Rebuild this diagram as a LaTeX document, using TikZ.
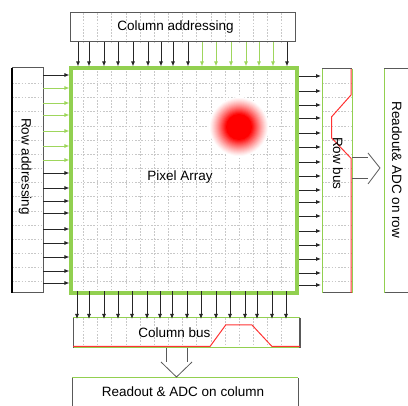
\documentclass[tikz,border=0pt]{standalone}
\usepackage{fontspec}
\setmainfont{Liberation Sans}
\usetikzlibrary{arrows.meta,positioning,calc}

\definecolor{ltgreen}{RGB}{146,208,80}
\definecolor{arrgreen}{RGB}{158,214,92}
\definecolor{bordgray}{RGB}{89,89,89}
\definecolor{gridgray}{RGB}{200,200,200}
\definecolor{busred}{RGB}{255,50,50}

\tikzset{
  box/.style={inner sep=0pt, outer sep=0pt},
  lbl/.style={inner sep=0pt, font=\fontsize{13.5}{16}\selectfont},
  gridline/.style={gridgray, dash pattern=on 1.6pt off 1.6pt, line width=0.5pt},
  grayside/.style={bordgray, line width=1pt},
  greenside/.style={ltgreen, line width=1pt},
  sig/.style={-{Latex[length=5pt,width=4pt]}, line width=0.8pt, black!85},
  gsig/.style={sig, arrgreen},
  busline/.style={busred, line width=1pt},
  bigarrow/.style={bordgray, line width=0.8pt}
}

\begin{document}
\begin{tikzpicture}[x=1pt, y=-1pt]
  \useasboundingbox (0,0) rectangle (408,406);

  % блоки
  \node[box, minimum width=225, minimum height=29] (coladdr) at (182.5,27.5) {};
  \node[box, minimum width=31, minimum height=225] (rowaddr) at (27.5,180.5) {};
  \node[box, minimum width=226, minimum height=225] (array) at (184,180.5) {};
  \node[box, minimum width=30, minimum height=224] (rowbus) at (337,181) {};
  \node[box, minimum width=30, minimum height=224] (rowadc) at (399,181) {};
  \node[box, minimum width=227, minimum height=30] (colbus) at (186.5,333) {};
  \node[box, minimum width=226, minimum height=32] (coladc) at (185,394) {};

  % сетка
  \foreach \k [evaluate=\k as \g using 83.3+14.17*\k] in {0,...,14} {
    \draw[gridline] (\g,0 |- coladdr.north) -- (\g,0 |- coladdr.south);
    \draw[gridline] (\g,0 |- array.north) -- (\g,0 |- array.south);
    \draw[gridline] (\g,0 |- colbus.north) -- (\g,0 |- colbus.south);
    \draw[gridline] (array.west |- 0,\g) -- (array.east |- 0,\g);
    \draw[gridline] (rowaddr.west |- 0,\g) -- (rowaddr.east |- 0,\g);
    \draw[gridline] (rowbus.west |- 0,\g) -- (rowbus.east |- 0,\g);
  }

  % пятно засветки
  \coordinate (spot) at (239,127);
  \foreach \r [evaluate=\r as \p using {min(100,100*((30-\r)/17)^1.2)}] in {30,29,...,1}
    \fill[red!\p!white] (spot) circle (\r);

  % рамки
  \draw[grayside] (coladdr.north west) rectangle (coladdr.south east);
  \draw[grayside] (rowaddr.north west) -- (rowaddr.north east) -- (rowaddr.south east) -- (rowaddr.south west);
  \draw[black, line width=2pt] (rowaddr.north west) -- (rowaddr.south west);
  \draw[grayside] (rowbus.north west) -- (rowbus.north east);
  \draw[grayside] (rowbus.south west) -- (rowbus.south east);
  \draw[greenside] (rowbus.north west) -- (rowbus.south west);
  \draw[greenside] (rowbus.north east) -- (rowbus.south east);
  \draw[grayside] (rowadc.north west) -- (rowadc.north east);
  \draw[grayside] (rowadc.south west) -- (rowadc.south east);
  \draw[greenside] (rowadc.north west) -- (rowadc.south west);
  \draw[greenside] (colbus.north west) -- (colbus.north east);
  \draw[greenside] (colbus.south west) -- (colbus.south east);
  \draw[grayside] (colbus.north west) -- (colbus.south west);
  \draw[grayside, line width=1.6pt] (colbus.north east) -- (colbus.south east);
  \draw[greenside] (coladc.north west) -- (coladc.north east);
  \draw[grayside] (coladc.north west) -- (coladc.south west);
  \draw[grayside] (coladc.north east) -- (coladc.south east);
  \draw[ltgreen, line width=3.2pt] (array.north west) rectangle (array.south east);

  % шины
  \draw[busline] (351,0 |- rowbus.north) -- (351,95) -- (331.7,116.7) -- (331.7,138)
    -- (351,158.3) -- (351,0 |- rowbus.south);
  \draw[busline] (colbus.west |- 0,346.5) -- (210,346.5) -- (225.7,325) -- (252,325)
    -- (272,346.5) -- (colbus.east |- 0,346.5);

  % адресация столбцов
  \foreach \x in {78,89,104,118,133,148,161,173,188,287}
    \draw[sig] (\x,0 |- coladdr.south) -- ([yshift=1.6pt]\x,0 |- array.north);
  \foreach \x in {202,216,231,246,259,273}
    \draw[gsig] (\x,0 |- coladdr.south) -- ([yshift=1.6pt]\x,0 |- array.north);

  % адресация строк
  \foreach \y in {75,173,188,201,213,229,243,257,271,283}
    \draw[sig] (rowaddr.east |- 0,\y) -- ([xshift=-1.6pt]array.west |- 0,\y);
  \foreach \y in {88,103,115,131,146,160}
    \draw[gsig] (rowaddr.east |- 0,\y) -- ([xshift=-1.6pt]array.west |- 0,\y);

  % выходы на шины
  \foreach \y in {76,91,105,118,133,147,162,176,190,202,216,231,245,259,273,285}
    \draw[sig] ([xshift=1.6pt]array.east |- 0,\y) -- ([xshift=-1pt]rowbus.west |- 0,\y);
  \foreach \x in {77,89,104,118,132,147,160,172,187,201,216,230,245,257,272,286}
    \draw[sig] ([yshift=1.6pt]\x,0 |- array.south) -- ([yshift=-1pt]\x,0 |- colbus.north);

  % большие стрелки
  \draw[bigarrow] (rowbus.east |- 0,157.5) -- (368,157.5);
  \draw[bigarrow] (rowbus.east |- 0,178.5) -- (368,178.5);
  \draw[bigarrow] (368,153) -- (380,168) -- (368,184);
  \draw[bigarrow] (166,0 |- colbus.south) -- (166,362);
  \draw[bigarrow] (187,0 |- colbus.south) -- (187,362);
  \draw[bigarrow] (161,362) -- (176.5,377) -- (192,362);

  % подписи
  \node[lbl] (coladdrtxt) at (175.5,27.5) {Column addressing};
  \node[lbl, rotate=-90] (rowaddrtxt) at (25,166.5) {Row addressing};
  \node[lbl] (arraytxt) at (180,177) {Pixel Array};
  \node[lbl, rotate=-90] (rowbustxt) at (338,163.5) {Row bus};
  \node[lbl, rotate=-90] (rowadctxt) at (397,170) {Readout\& ADC on row};
  \node[lbl] (colbustxt) at (174.5,332.7) {Column bus};
  \node[lbl] (coladctxt) at (183,391.7) {Readout \& ADC on column};
\end{tikzpicture}
\end{document}
